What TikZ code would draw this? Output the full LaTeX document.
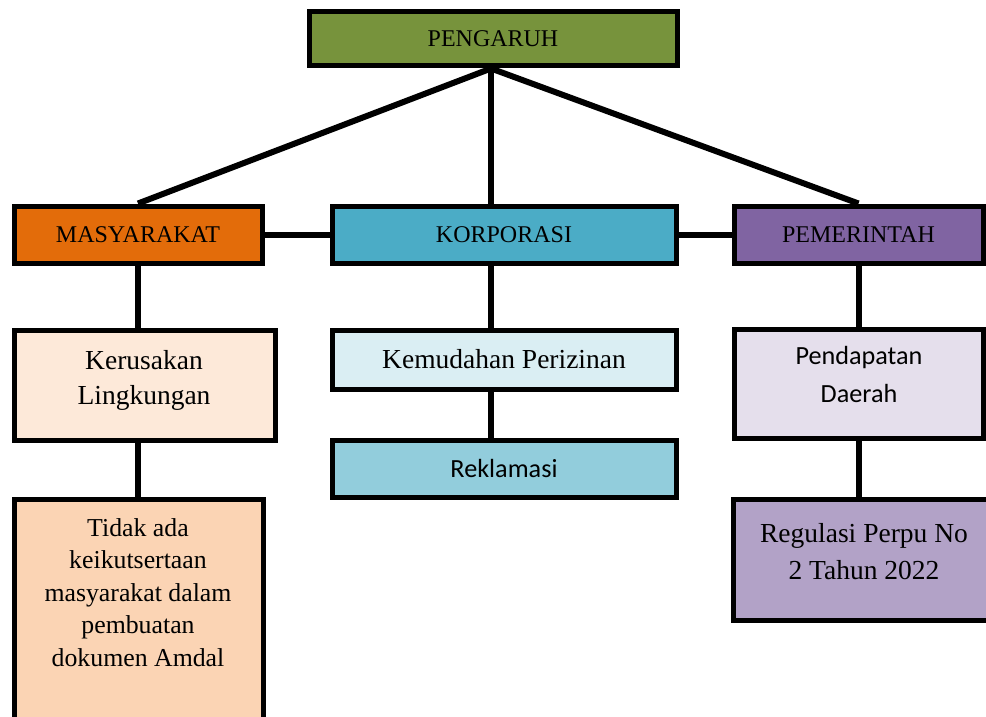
\documentclass[tikz,border=0pt]{standalone}
\usepackage{fontspec}
\setmainfont{Liberation Serif}
\newfontfamily\calib{Carlito}
\definecolor{cpeng}{HTML}{77933C}
\definecolor{cmas}{HTML}{E36C0A}
\definecolor{ckor}{HTML}{4BACC6}
\definecolor{cpem}{HTML}{8064A2}
\definecolor{cker}{HTML}{FDE9D9}
\definecolor{ckem}{HTML}{DAEEF3}
\definecolor{crek}{HTML}{92CDDC}
\definecolor{cpen}{HTML}{E5DFEC}
\definecolor{ctid}{HTML}{FBD4B4}
\definecolor{creg}{HTML}{B2A2C7}
\begin{document}
\begin{tikzpicture}[x=1pt,y=-1pt,
  box/.style={draw=black,line width=5pt,rectangle,inner sep=0pt,align=center,text=black},
  conn/.style={draw=black,line width=6pt},
  txt/.style={inner sep=0pt,align=center,text=black},
  capsf/.style={font=\fontsize{24}{28}\selectfont},
  lowf/.style={font=\fontsize{27.5}{35}\selectfont},
  sansf/.style={font=\calib\fontsize{26.2}{38}\selectfont}]
\useasboundingbox (0,0) rectangle (986,717);
% boxes
\node[box,fill=cpeng,minimum width=368pt,minimum height=54pt,capsf] (peng) at (493,39) {PENGARUH};
\node[box,fill=cmas,minimum width=248pt,minimum height=57pt,capsf] (mas) at (138,234.5) {MASYARAKAT};
\node[box,fill=ckor,minimum width=344pt,minimum height=57pt,capsf] (kor) at (504,234.5) {KORPORASI};
\node[box,fill=cpem,minimum width=249pt,minimum height=57pt,capsf] (pem) at (858.5,234.5) {PEMERINTAH};
\node[box,fill=cker,minimum width=261pt,minimum height=110pt] (ker) at (144.5,385) {};
\node[txt,lowf] (kert) at (144,380) {Kerusakan\\Lingkungan};
\node[box,fill=ckem,minimum width=344pt,minimum height=59pt,lowf] (kem) at (504,359.5) {Kemudahan Perizinan};
\node[box,fill=crek,minimum width=344pt,minimum height=57pt,sansf] (rek) at (504,468.5) {Reklamasi};
\node[box,fill=cpen,minimum width=249pt,minimum height=109pt] (pen) at (858.5,383.5) {};
\node[txt,sansf] (pent) at (859,374) {Pendapatan\\Daerah};
\node[box,fill=ctid,minimum width=249pt,minimum height=259pt] (tid) at (138.5,628.5) {};
\node[txt,font=\fontsize{25.8}{32.5}\selectfont,anchor=north] (tidt) at (138,518) {Tidak ada\\keikutsertaan\\masyarakat dalam\\pembuatan\\dokumen Amdal};
\node[box,fill=creg,minimum width=255pt,minimum height=121pt] (reg) at (860.5,559.5) {};
\node[txt,font=\fontsize{27.5}{37}\selectfont] (regt) at (864,552) {Regulasi Perpu No\\2 Tahun 2022};
% connectors
\coordinate (hub) at (peng.south -| 491,0);
\draw[conn] (hub) -- (mas.north);
\draw[conn] (hub) -- (hub |- kor.north);
\draw[conn] (hub) -- (pem.north);
\draw[conn] (mas.east) -- (kor.west);
\draw[conn] (kor.east) -- (pem.west);
\draw[conn] (mas.south) -- (mas.south |- ker.north);
\draw[conn] (kor.south -| hub) -- (kem.north -| hub);
\draw[conn] (kem.south -| hub) -- (rek.north -| hub);
\draw[conn] (pem.south) -- (pem.south |- pen.north);
\draw[conn] (ker.south -| mas.south) -- (tid.north -| mas.south);
\draw[conn] (pen.south -| pem.south) -- (reg.north -| pem.south);
\end{tikzpicture}
\end{document}
